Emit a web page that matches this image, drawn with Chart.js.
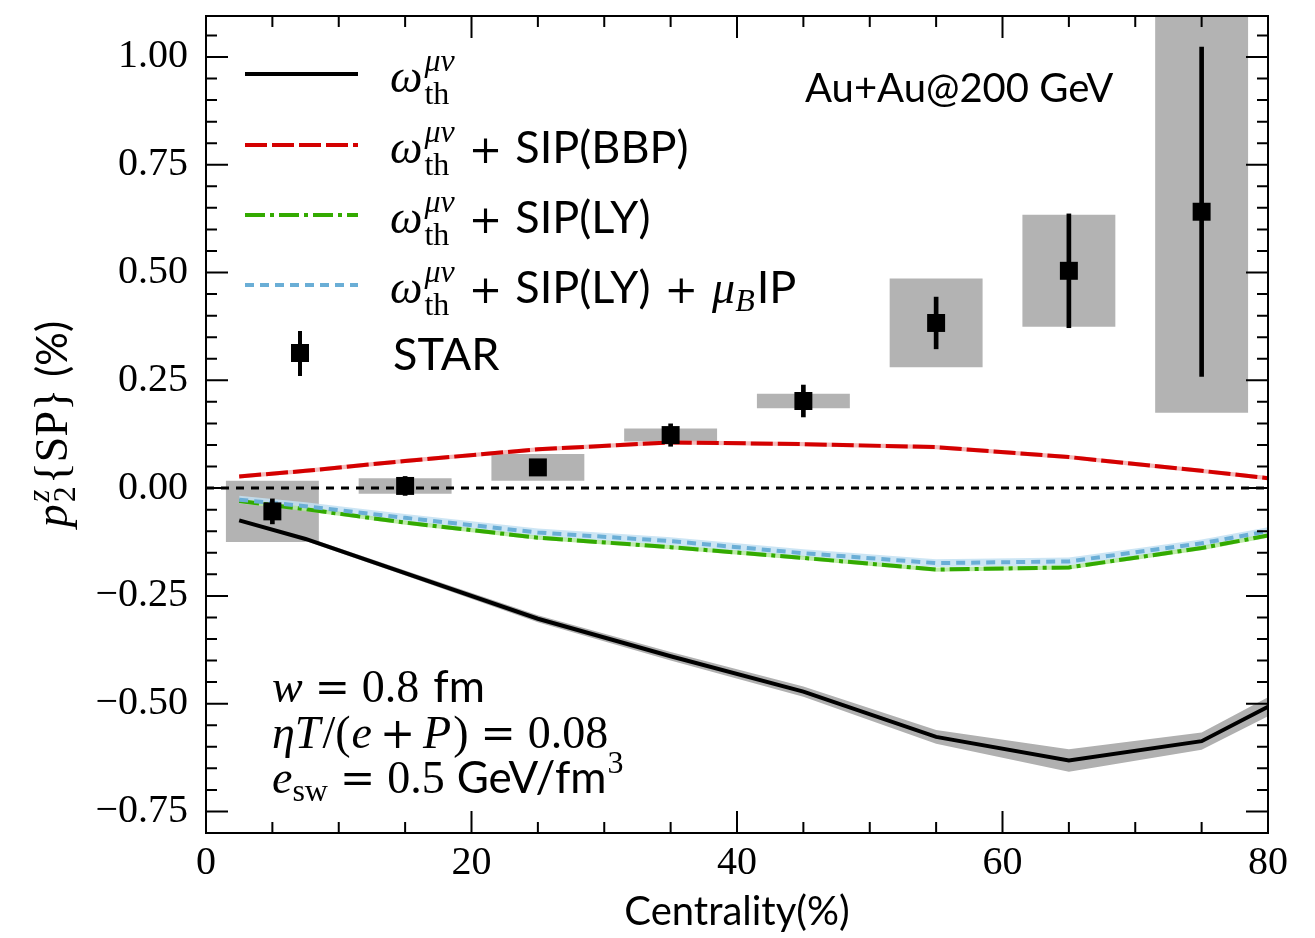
<!DOCTYPE html>
<html>
<head>
<meta charset="utf-8">
<script src="https://cdn.jsdelivr.net/npm/chart.js@4.4.1/dist/chart.umd.min.js"></script>
<style>
  html, body { margin: 0; padding: 0; background: #fff; }
  #wrap { width: 1315px; height: 938px; }
</style>
</head>
<body>
<div id="wrap"><canvas id="chart"></canvas></div>
<script>
// model curves
const centrality = [2.5, 7.5, 15, 25, 35, 45, 55, 65, 75, 80];
const thermal = [-0.075, -0.118, -0.197, -0.303, -0.39, -0.472, -0.577, -0.632, -0.587, -0.507];
const thermalErr = [0.004, 0.005, 0.006, 0.008, 0.01, 0.012, 0.016, 0.026, 0.02, 0.022];
const sipBBP = [0.027, 0.04, 0.063, 0.09, 0.106, 0.102, 0.095, 0.072, 0.04, 0.023];
const sipBBPErr = [0.005, 0.005, 0.005, 0.005, 0.005, 0.005, 0.005, 0.005, 0.005, 0.005];
const sipLY = [-0.03, -0.049, -0.08, -0.115, -0.137, -0.162, -0.189, -0.184, -0.139, -0.11];
const sipLYErr = [0.005, 0.005, 0.005, 0.005, 0.005, 0.005, 0.005, 0.005, 0.005, 0.005];
const sipLYmuB = [-0.027, -0.042, -0.069, -0.103, -0.123, -0.151, -0.174, -0.17, -0.128, -0.1];
const sipLYmuBErr = [0.009, 0.009, 0.009, 0.009, 0.009, 0.009, 0.009, 0.009, 0.009, 0.009];

// STAR data
const starX = [5, 15, 25, 35, 45, 55, 65, 75];
const starY = [-0.054, 0.005, 0.048, 0.123, 0.202, 0.383, 0.504, 0.641];
const starStat = [0.029, 0.022, 0.015, 0.026, 0.037, 0.06, 0.132, 0.382];
const starSys = [0.071, 0.018, 0.031, 0.015, 0.017, 0.103, 0.13, 0.466];

const xTicks = [0, 20, 40, 60, 80];
const yTicks = [-0.75, -0.5, -0.25, 0, 0.25, 0.5, 0.75, 1.0];

const SERIF = '"Liberation Serif", "Times New Roman", serif';
const SANS = 'Lato, "DejaVu Sans", sans-serif';
const OPS = '"DejaVu Serif", serif';
const it = (s) => `italic ${s}px ${SERIF}`;
const rm = (s) => `${s}px ${SERIF}`;
const sf = (s) => `${s}px ${SANS}`;
const op = (s) => `${s}px ${OPS}`;

const RED = "#d40000";
const GREEN = "#33aa00";
const BLUE = "#6aaed6";

function curve(ys, off) {
  return centrality.map((x, i) => ({ x, y: ys[i] + (off ? off[i] : 0) }));
}
function curveLow(ys, err) {
  return centrality.map((x, i) => ({ x, y: ys[i] - err[i] }));
}

function bandPair(ys, err, color) {
  return [
    { type: "line", data: curveLow(ys, err), borderWidth: 0, pointRadius: 0, fill: false, order: 9 },
    { type: "line", data: curve(ys, err), borderWidth: 0, pointRadius: 0, fill: "-1", backgroundColor: color, order: 9 },
  ];
}

// draws a run of text pieces (mixed fonts, sub/superscripts)
function drawParts(ctx, x, y, parts, dry) {
  for (const p of parts) {
    x += p.dx || 0;
    if (p.sup !== undefined || p.sub !== undefined) {
      let w = 0;
      if (p.sup) {
        ctx.font = p.supFont;
        if (!dry) ctx.fillText(p.sup, x, y - p.up);
        w = Math.max(w, ctx.measureText(p.sup).width);
      }
      if (p.sub) {
        ctx.font = p.subFont;
        if (!dry) ctx.fillText(p.sub, x, y + p.down);
        w = Math.max(w, ctx.measureText(p.sub).width);
      }
      x += w;
    } else {
      ctx.font = p.font;
      if (!dry) ctx.fillText(p.t, x, y + (p.dy || 0));
      x += ctx.measureText(p.t).width;
    }
  }
  return x;
}

const omega = [
  { t: "ω", font: it(46) },
  { sup: "μν", supFont: it(32), up: 21, sub: "th", subFont: rm(32), down: 12, dx: 2 },
];
const plus = () => ({ t: "+", font: op(40), dx: 14 });

const legendItems = [
  { y: 74, color: "#000", dash: [], parts: [...omega] },
  { y: 145, color: RED, dash: [22, 5], parts: [...omega, plus(), { t: "SIP(BBP)", font: sf(45), dx: 13 }] },
  { y: 215, color: GREEN, dash: [20, 5, 4, 5], parts: [...omega, plus(), { t: "SIP(LY)", font: sf(45), dx: 13 }] },
  {
    y: 285, color: BLUE, dash: [9, 6],
    parts: [...omega, plus(), { t: "SIP(LY)", font: sf(45), dx: 13 }, plus(), { t: "μ", font: it(46), dx: 14 },
      { sub: "B", subFont: it(32), down: 8 }, { t: "IP", font: sf(45), dx: 2 }],
  },
];

const decor = {
  id: "decor",
  afterDatasetsDraw(chart) {
    const { ctx, chartArea: a, scales: { x, y } } = chart;
    ctx.save();
    ctx.strokeStyle = "#000";
    ctx.lineWidth = 2;
    ctx.beginPath();
    for (let v = 0; v <= 80; v += 5) {
      const px = x.getPixelForValue(v);
      const L = v % 20 === 0 ? 22 : 11;
      ctx.moveTo(px, a.bottom); ctx.lineTo(px, a.bottom - L);
      ctx.moveTo(px, a.top); ctx.lineTo(px, a.top + L);
    }
    for (let k = -15; k <= 21; k++) {
      const py = y.getPixelForValue(k * 0.05);
      const L = k % 5 === 0 ? 22 : 11;
      ctx.moveTo(a.left, py); ctx.lineTo(a.left + L, py);
      ctx.moveTo(a.right, py); ctx.lineTo(a.right - L, py);
    }
    ctx.stroke();
    ctx.strokeRect(a.left, a.top, a.right - a.left, a.bottom - a.top);
    ctx.restore();
  },
  afterDraw(chart) {
    const { ctx } = chart;
    ctx.save();
    ctx.fillStyle = "#000";
    ctx.textBaseline = "alphabetic";
    ctx.textAlign = "left";

    // legend
    for (const item of legendItems) {
      ctx.beginPath();
      ctx.strokeStyle = item.color;
      ctx.lineWidth = 4;
      ctx.setLineDash(item.dash);
      ctx.moveTo(245, item.y); ctx.lineTo(358, item.y);
      ctx.stroke();
      ctx.setLineDash([]);
      drawParts(ctx, 390, item.y + 18, item.parts);
    }
    // STAR legend marker
    ctx.fillRect(298, 331, 4, 45);
    ctx.fillRect(291, 344, 18, 18);
    drawParts(ctx, 393, 370, [{ t: "STAR", font: sf(45) }]);

    // system label
    drawParts(ctx, 805, 102, [{ t: "Au+Au@200 GeV", font: sf(40) }]);

    // parameters
    drawParts(ctx, 272, 702, [
      { t: "w", font: it(46) }, { t: "=", font: op(42), dx: 12 }, { t: "0.8", font: rm(46), dx: 12 },
      { t: "fm", font: sf(44), dx: 14 },
    ]);
    drawParts(ctx, 272, 748, [
      { t: "η", font: it(46) }, { t: "T", font: it(46) }, { t: "/", font: rm(46), dx: 2 }, { t: "(", font: rm(46) },
      { t: "e", font: it(46), dx: 1 },
      { t: "+", font: op(42), dx: 8 }, { t: "P", font: it(46), dx: 8 }, { t: ")", font: rm(46), dx: 2 },
      { t: "=", font: op(42), dx: 12 }, { t: "0.08", font: rm(46), dx: 12 },
    ]);
    drawParts(ctx, 272, 793, [
      { t: "e", font: it(46) }, { sub: "sw", subFont: rm(32), down: 8 }, { t: "=", font: op(42), dx: 12 },
      { t: "0.5", font: rm(46), dx: 12 }, { t: "GeV/fm", font: sf(44), dx: 12 },
      { sup: "3", supFont: rm(32), up: 20, dx: 1 },
    ]);

    // y axis title, rotated
    const yParts = [
      { t: "p", font: it(46) },
      { sup: "z", supFont: it(32), up: 18, sub: "2", subFont: rm(32), down: 8, dx: 2 },
      { t: "{SP}", font: rm(46), dx: 2 },
      { t: "(%)", font: sf(42), dx: 12 },
    ];
    const w = drawParts(ctx, 0, 0, yParts, true);
    ctx.translate(67, 424);
    ctx.rotate(-Math.PI / 2);
    drawParts(ctx, -w / 2, 0, yParts);
    ctx.restore();
  },
};

const datasets = [
  {
    type: "bar",
    data: starX.map((x, i) => ({ x, y: [starY[i] - starSys[i], starY[i] + starSys[i]] })),
    backgroundColor: "#b3b3b3",
    borderWidth: 0,
    grouped: false,
    barPercentage: 0.7,
    categoryPercentage: 1.0,
    order: 10,
  },
  ...bandPair(thermal, thermalErr, "#b0b0b0"),
  ...bandPair(sipBBP, sipBBPErr, "rgba(240,170,170,0.8)"),
  ...bandPair(sipLY, sipLYErr, "rgba(175,230,150,0.8)"),
  ...bandPair(sipLYmuB, sipLYmuBErr, "rgba(195,224,242,0.85)"),
  {
    type: "line",
    data: [{ x: 0, y: 0 }, { x: 80, y: 0 }],
    borderColor: "#000",
    borderWidth: 3,
    borderDash: [8, 7],
    pointRadius: 0,
    order: 7,
  },
  { type: "line", data: curve(thermal), borderColor: "#000", borderWidth: 4, pointRadius: 0, order: 6 },
  { type: "line", data: curve(sipBBP), borderColor: RED, borderWidth: 4, borderDash: [22, 5], pointRadius: 0, order: 5 },
  { type: "line", data: curve(sipLY), borderColor: GREEN, borderWidth: 4, borderDash: [20, 5, 4, 5], pointRadius: 0, order: 4 },
  { type: "line", data: curve(sipLYmuB), borderColor: BLUE, borderWidth: 4, borderDash: [9, 6], pointRadius: 0, order: 3 },
  {
    type: "bar",
    data: starX.map((x, i) => ({ x, y: [starY[i] - starStat[i], starY[i] + starStat[i]] })),
    backgroundColor: "#000",
    borderWidth: 0,
    grouped: false,
    barThickness: 4,
    order: 2,
  },
  {
    type: "scatter",
    data: starX.map((x, i) => ({ x, y: starY[i] })),
    pointStyle: "rect",
    pointRadius: 12.7,
    backgroundColor: "#000",
    borderWidth: 0,
    order: 1,
  },
];

const ctx = document.getElementById("chart").getContext("2d");
new Chart(ctx, {
  data: { datasets },
  plugins: [decor],
  options: {
    responsive: true,
    maintainAspectRatio: false,
    animation: false,
    layout: { padding: { top: 16, right: 47, left: 0, bottom: 0 } },
    plugins: { legend: { display: false }, tooltip: { enabled: false } },
    scales: {
      x: {
        type: "linear",
        min: 0,
        max: 80,
        offset: false,
        grid: { display: false, drawTicks: false },
        border: { display: false },
        afterBuildTicks: (s) => { s.ticks = xTicks.map((v) => ({ value: v })); },
        afterFit: (s) => { s.height = 105; s.paddingLeft = 0; s.paddingRight = 0; },
        ticks: {
          autoSkip: false,
          maxRotation: 0,
          padding: 6,
          color: "#000",
          font: { family: SERIF, size: 40 },
          callback: (v) => String(v),
        },
        title: {
          display: true,
          text: "Centrality(%)",
          color: "#000",
          font: { family: SANS, size: 40 },
          padding: { top: 0, bottom: 2 },
        },
      },
      y: {
        type: "linear",
        min: -0.8,
        max: 1.095,
        grid: { display: false, drawTicks: false },
        border: { display: false },
        afterBuildTicks: (s) => { s.ticks = yTicks.map((v) => ({ value: v })); },
        afterFit: (s) => { s.width = 206; s.paddingTop = 0; s.paddingBottom = 0; },
        ticks: {
          autoSkip: false,
          padding: 18,
          color: "#000",
          font: { family: SERIF, size: 40 },
          callback: (v) => (v < 0 ? "\u2212" : "") + Math.abs(v).toFixed(2),
        },
      },
    },
  },
});
</script>
</body>
</html>
